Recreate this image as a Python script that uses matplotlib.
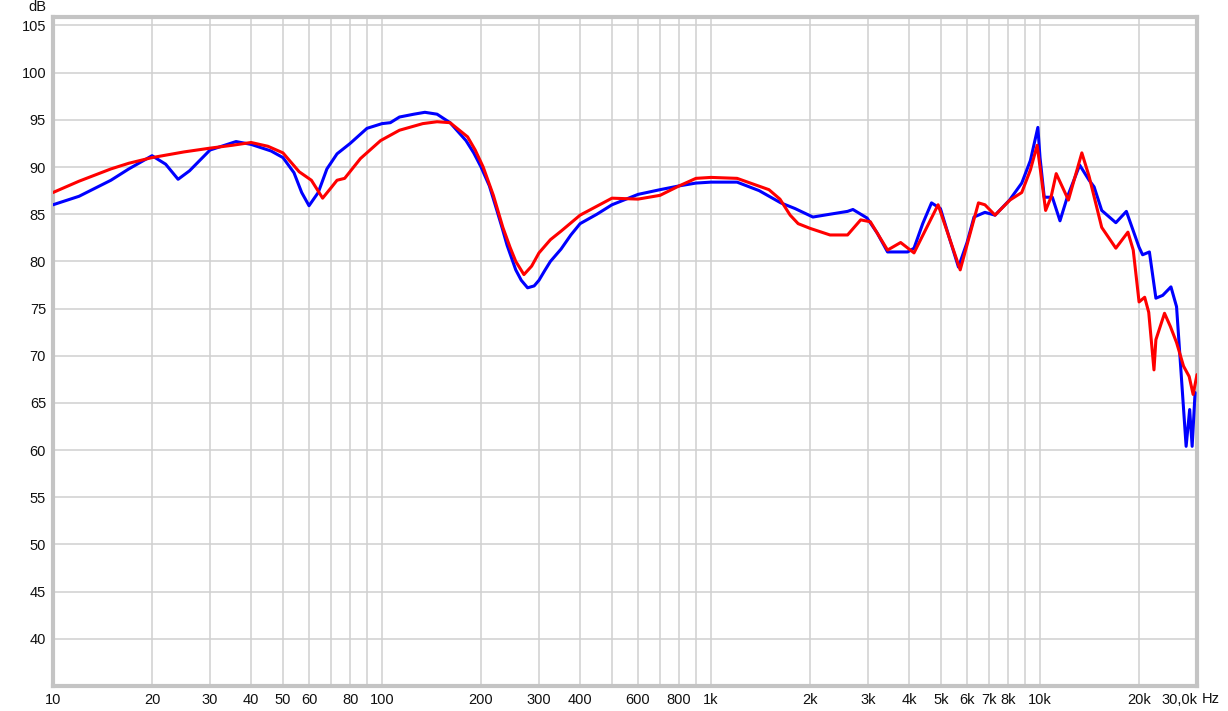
import numpy as np
import matplotlib.pyplot as plt

plt.rcParams['font.family'] = ['Liberation Sans', 'DejaVu Sans']

# ---- data ----
blue_f = [10, 12, 15, 17, 20, 22, 24, 26, 30, 36, 40, 46, 50, 54, 57, 60, 64, 68, 73, 80, 90,
          100, 106, 113, 125, 135, 147, 161, 180, 190, 200, 212, 223, 232, 240, 255, 265, 277,
          290, 300, 312, 325, 350, 375,
          400, 450, 500, 600, 700, 800, 900, 1000, 1200, 1400, 1630, 1800, 2040, 2300,
          2600, 2700, 2980, 3200, 3440, 3960, 4140, 4400, 4680, 4980, 5300, 5650, 6000,
          6300, 6800, 7300, 8080, 8800, 9350, 9850, 10000, 10300, 10900, 11500, 12100,
          13200, 14100, 14600, 15400, 17000, 18300, 20000, 20500, 21500, 22500, 23600,
          25000, 26000, 26500, 27800, 28500, 29000, 29600]
blue_db = [86.0, 86.9, 88.6, 89.8, 91.2, 90.3, 88.7, 89.6, 91.8, 92.7, 92.4, 91.7, 91.0, 89.4,
           87.3, 85.9, 87.3, 89.8, 91.4, 92.5, 94.1, 94.6, 94.7, 95.3, 95.6, 95.8, 95.6, 94.7,
           92.8, 91.5, 90.0, 88.0, 85.5, 83.5, 81.7, 79.1, 78.0, 77.2,
           77.4, 78.0, 79.0, 80.0, 81.3, 82.8, 84.0, 85.0, 86.0, 87.1,
           87.6, 88.0, 88.3, 88.4, 88.4, 87.5, 86.2, 85.6, 84.7, 85.0, 85.3, 85.5, 84.6,
           83.0, 81.0, 81.0, 81.4, 84.0, 86.2, 85.6, 82.5, 79.4, 82.0, 84.7, 85.2, 84.9,
           86.5, 88.3, 90.7, 94.2, 91.0, 86.8, 86.8, 84.3, 86.8, 90.2, 88.6, 87.9, 85.4,
           84.1, 85.3, 81.5, 80.7, 81.0, 76.1, 76.4, 77.3, 75.2, 71.0, 60.4, 64.3, 60.4, 66.1]

red_f = [10, 12, 15, 17, 20, 25, 30, 35, 40, 45, 50, 56, 61, 66, 70, 73, 77, 86, 99, 113, 133,
         147, 161, 182, 192, 203, 218, 233, 245, 255, 270, 285, 300, 325, 350, 400, 500, 600,
         700, 800, 900, 1000,
         1200, 1500, 1620, 1740, 1840, 2000, 2300, 2600, 2850, 3050, 3440, 3770, 4140, 4900,
         5720, 6500, 6800, 7300, 8100, 8800, 9350, 9800, 10000, 10400, 10800, 11200,
         12200, 13400, 14100, 15400, 17000, 18500, 19200, 20000, 20800, 21400, 22200,
         22500, 23900, 24900, 26000, 27300, 28400, 29200, 30000]
red_db = [87.3, 88.5, 89.8, 90.4, 91.0, 91.6, 92.0, 92.3, 92.6, 92.2, 91.5, 89.5, 88.6, 86.7,
          87.8, 88.6, 88.8, 90.9, 92.8, 93.9, 94.6, 94.8, 94.7, 93.2, 91.8, 90.0, 87.0, 83.6,
          81.5, 80.0, 78.6, 79.5, 80.9, 82.3, 83.2, 84.9, 86.7, 86.6, 87.0, 88.0, 88.8, 88.9,
          88.8, 87.6, 86.6, 84.9, 84.0,
          83.5, 82.8, 82.8, 84.4, 84.2, 81.2, 82.0, 80.9, 86.0, 79.1, 86.2, 86.0, 84.9,
          86.5, 87.3, 89.7, 92.3, 90.0, 85.4, 86.8, 89.3, 86.5, 91.5, 89.0, 83.6, 81.4,
          83.1, 81.2, 75.7, 76.2, 74.6, 68.5, 71.7, 74.5, 73.1, 71.4, 68.9, 67.8, 65.9, 68.0]

grid_f = [20, 30, 40, 50, 60, 70, 80, 90, 100, 200, 300, 400, 500, 600, 700, 800, 900,
          1000, 2000, 3000, 4000, 5000, 6000, 7000, 8000, 9000, 10000, 20000]
tick_f = [10, 20, 30, 40, 50, 60, 80, 100, 200, 300, 400, 600, 800, 1000, 2000, 3000,
          4000, 5000, 6000, 7000, 8000, 10000, 20000, 30000]
tick_lab = ['10', '20', '30', '40', '50', '60', '80', '100', '200', '300', '400', '600',
            '800', '1k', '2k', '3k', '4k', '5k', '6k', '7k', '8k', '10k', '20k', '30,0k']
y_ticks = list(range(40, 106, 5))

# ---- figure ----
W, H = 1228, 711
fig = plt.figure(figsize=(W / 100, H / 100), dpi=100)
ax = fig.add_axes([53 / W, 25 / H, (1197 - 53) / W, (686 - 17) / H])

ax.set_xscale('log')
ax.set_xlim(10, 30000)
ax.set_ylim(35, 105.9)

for f in grid_f:
    ax.axvline(f, color='#d0d0d0', lw=1.1, zorder=0)
for v in y_ticks:
    ax.axhline(v, color='#d0d0d0', lw=1.1, zorder=0)

ax.plot(blue_f, blue_db, color='#0000ff', lw=2.2, zorder=3,
        solid_joinstyle='round', solid_capstyle='round')
ax.plot(red_f, red_db, color='#ff0000', lw=2.2, zorder=4,
        solid_joinstyle='round', solid_capstyle='round')

ax.xaxis.set_minor_locator(plt.NullLocator())
ax.set_xticks(tick_f)
ax.set_xticklabels(tick_lab)
ax.set_yticks(y_ticks)
ax.tick_params(length=0, labelsize=10.5, colors='#111111', pad=5)
# last label sits left of the edge, like the reference
ax.get_xticklabels()[-1].set_horizontalalignment('right')

for s in ax.spines.values():
    s.set_color('#c4c4c4')
    s.set_linewidth(3)

fig.text(37 / W, 1 - 7 / H, 'dB', fontsize=10.5, ha='center', va='center', color='#111111')
fig.text(1202 / W, 1 - 699 / H, 'Hz', fontsize=10.5, ha='left', va='center', color='#111111')

fig.savefig('out.png', dpi=100)
